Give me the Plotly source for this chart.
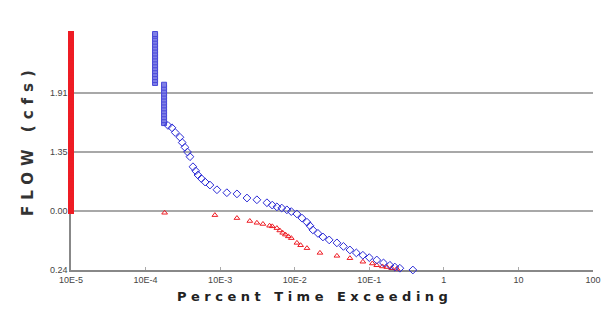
import plotly.graph_objects as go

# ---- data ----
x_tickvals = [1e-5, 1e-4, 1e-3, 1e-2, 1e-1, 1, 10, 100]
x_ticktext = ["10E-5", "10E-4", "10E-3", "10E-2", "10E-1", "1", "10", "100"]
y_tickvals = [0, 1, 2, 3]
y_ticktext = ["0.24", "0.00", "1.35", "1.91"]

# red series: vertical column at 10E-5
red_col_x = 1e-5
red_col_y = [1.00, 1.05, 1.10, 1.15, 1.20, 1.25, 1.30, 1.35, 1.40, 1.45, 1.50, 1.55,
             1.60, 1.65, 1.70, 1.75, 1.80, 1.85, 1.90, 1.95, 2.00, 2.05, 2.10, 2.15,
             2.20, 2.25, 2.30, 2.35, 2.40, 2.45, 2.50, 2.55, 2.60, 2.65, 2.70, 2.75,
             2.80, 2.85, 2.90, 2.95, 3.00, 3.05, 3.10, 3.15, 3.20, 3.25, 3.30, 3.35,
             3.40, 3.45, 3.50, 3.55, 3.60, 3.65, 3.70, 3.75, 3.80, 3.85, 3.90, 3.95, 4.00]
# red series: tail
red_x = [1.8e-4, 8.5e-4, 1.68e-3, 2.5e-3, 3.11e-3, 3.75e-3, 4.6e-3, 5.0e-3, 5.77e-3,
         6.3e-3, 6.9e-3, 7.5e-3, 8.2e-3, 9.0e-3, 1.07e-2, 1.2e-2, 1.46e-2, 2.18e-2,
         3.68e-2, 5.5e-2, 8.2e-2, 0.11, 0.126, 0.15, 0.172, 0.2, 0.234]
red_y = [0.97, 0.93, 0.88, 0.83, 0.80, 0.78, 0.75, 0.74, 0.71,
         0.67, 0.63, 0.60, 0.57, 0.54, 0.46, 0.42, 0.37, 0.29,
         0.24, 0.20, 0.14, 0.11, 0.08, 0.06, 0.05, 0.03, 0.02]

# blue series: two vertical columns near 10E-4
blue_col1_x = 1.34e-4
blue_col1_y = [3.17, 3.22, 3.27, 3.32, 3.37, 3.42, 3.47, 3.52, 3.57, 3.62, 3.67,
               3.72, 3.77, 3.82, 3.87, 3.92, 3.97, 4.00]
blue_col2_x = 1.77e-4
blue_col2_y = [2.49, 2.54, 2.59, 2.64, 2.69, 2.74, 2.79, 2.84, 2.89, 2.94, 2.99,
               3.04, 3.09, 3.14]
# blue series: tail
blue_x = [2.0e-4, 2.26e-4, 2.5e-4, 2.89e-4, 3.1e-4, 3.37e-4, 3.65e-4, 3.94e-4, 4.32e-4,
          4.7e-4, 5.04e-4, 5.6e-4, 6.3e-4, 7.29e-4, 9.06e-4, 1.23e-3, 1.68e-3, 2.29e-3,
          3.11e-3, 4.24e-3, 5.0e-3, 5.77e-3, 6.7e-3, 7.85e-3, 9.0e-3, 1.07e-2, 1.25e-2,
          1.46e-2, 1.6e-2, 1.75e-2, 2.05e-2, 2.39e-2, 2.9e-2, 3.68e-2, 4.5e-2, 5.5e-2,
          6.7e-2, 8.2e-2, 0.1, 0.126, 0.155, 0.189, 0.22, 0.257, 0.384]
blue_y = [2.45, 2.41, 2.33, 2.25, 2.16, 2.08, 2.00, 1.92, 1.75,
          1.68, 1.61, 1.55, 1.49, 1.44, 1.36, 1.31, 1.29, 1.22,
          1.19, 1.14, 1.10, 1.07, 1.05, 1.02, 0.99, 0.95, 0.88,
          0.81, 0.75, 0.68, 0.62, 0.56, 0.51, 0.46, 0.40, 0.34,
          0.29, 0.25, 0.21, 0.17, 0.12, 0.08, 0.05, 0.03, 0.0]

BLUE = "#2b2bd6"
RED = "#ee1c24"

fig = go.Figure()

fig.add_trace(go.Scatter(
    x=[red_col_x] * len(red_col_y), y=red_col_y, mode="markers",
    marker=dict(symbol="square", size=6, color=RED, line=dict(width=0, color=RED)),
    cliponaxis=False, showlegend=False))
fig.add_trace(go.Scatter(
    x=red_x, y=red_y, mode="markers",
    marker=dict(symbol="triangle-up-open", size=5, color=RED, line=dict(width=1, color=RED)),
    cliponaxis=False, showlegend=False))
fig.add_trace(go.Scatter(
    x=[blue_col1_x] * len(blue_col1_y) + [blue_col2_x] * len(blue_col2_y),
    y=blue_col1_y + blue_col2_y, mode="markers",
    marker=dict(symbol="square", size=5, color="#7f7fe6", line=dict(width=1, color="#4a4ad8")),
    cliponaxis=False, showlegend=False))
fig.add_trace(go.Scatter(
    x=blue_x, y=blue_y, mode="markers",
    marker=dict(symbol="diamond-open", size=6, color=BLUE, line=dict(width=1, color=BLUE)),
    cliponaxis=False, showlegend=False))

L, R, T, B = 71, 15, 34, 54
fig.update_layout(
    width=608, height=324,
    margin=dict(l=L, r=R, t=T, b=B, autoexpand=False),
    paper_bgcolor="white", plot_bgcolor="white",
    font=dict(family="Liberation Sans, Arial, sans-serif", size=9, color="#444"),
    xaxis=dict(type="log", range=[-5, 2], tickvals=x_tickvals, ticktext=x_ticktext,
               showgrid=False, showline=True, linecolor="#888", linewidth=1.5,
               ticks="inside", ticklen=3, tickcolor="#aaa", zeroline=False,
               layer="below traces", tickfont=dict(size=9, color="#444")),
    yaxis=dict(range=[0, 4], tickvals=y_tickvals, ticktext=y_ticktext,
               showgrid=True, gridcolor="#a8a8a8", gridwidth=1.5,
               showline=True, linecolor="#888", linewidth=1.5, ticks="",
               zeroline=False, layer="below traces", tickfont=dict(size=9, color="#444")),
)

pw, ph = 608 - L - R, 324 - T - B
def px2paper(px, py):
    return (px - L) / pw, (324 - B - py) / ph

ax, ay = px2paper(314, 306)
bx, by = px2paper(17, 140)
fig.add_annotation(text='<span style="letter-spacing:4.5px">Percent Time Exceeding</span>',
                   x=ax, y=ay, xref="paper", yref="paper", showarrow=False,
                   font=dict(family="DejaVu Sans", size=13, color="#222", weight="bold"))
fig.add_annotation(text='<span style="letter-spacing:6px">FLOW (cfs)</span>',
                   x=bx, y=by, xref="paper", yref="paper", showarrow=False, textangle=-90,
                   font=dict(family="DejaVu Sans", size=15, color="#333", weight="bold"))

fig.write_html("out.html", config={"displayModeBar": False},
               post_script="document.body.style.margin='0';")
